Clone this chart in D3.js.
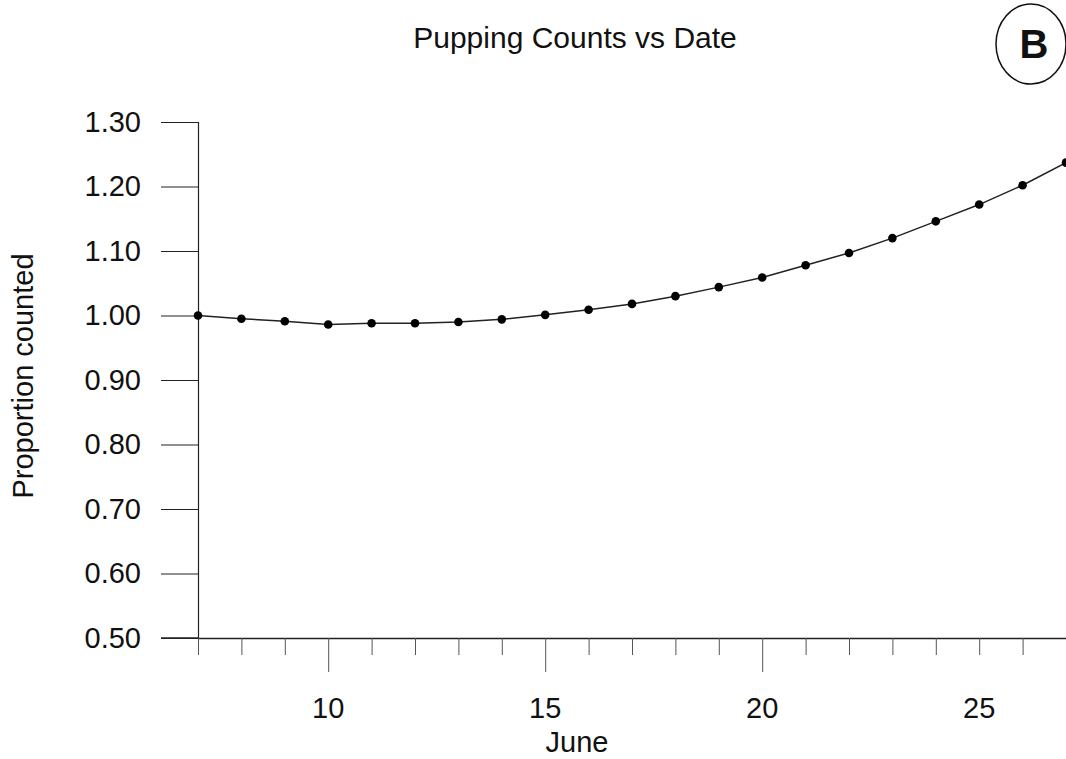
<!DOCTYPE html>
<html>
<head>
<meta charset="utf-8">
<script src="https://cdn.jsdelivr.net/npm/d3@7"></script>
<style>
  body { margin: 0; background: #fff; }
  text { font-family: "Liberation Sans", Arial, sans-serif; fill: #111; }
</style>
</head>
<body>
<div id="chart"></div>
<script>
// data
var days = [7, 8, 9, 10, 11, 12, 13, 14, 15, 16, 17, 18, 19, 20, 21, 22, 23, 24, 25, 26, 27];
var proportion = [1.000, 0.995, 0.991, 0.986, 0.988, 0.988, 0.990, 0.994, 1.001, 1.009, 1.018,
                  1.030, 1.044, 1.059, 1.078, 1.097, 1.120, 1.146, 1.172, 1.202, 1.237];
var yTicks = [0.5, 0.6, 0.7, 0.8, 0.9, 1.0, 1.1, 1.2, 1.3];
var xLabelTicks = [10, 15, 20, 25];
var majorTicks = [10, 15, 20];

var width = 1066, height = 759;
var margin = {left: 198, right: 0, top: 122, bottom: 121};

var svg = d3.select("#chart").append("svg")
    .attr("width", width)
    .attr("height", height);

var x = d3.scaleLinear().domain([7, 27]).range([margin.left, width - margin.right]);
var y = d3.scaleLinear().domain([0.5, 1.3]).range([height - margin.bottom, margin.top]);

// y axis
var yAxis = svg.append("g")
    .attr("transform", "translate(" + margin.left + ",0)")
    .call(d3.axisLeft(y).tickValues(yTicks).tickFormat(d3.format(".2f")).tickSize(37).tickPadding(20));
yAxis.select(".domain").attr("stroke", "#222").attr("stroke-width", 1.2);
yAxis.selectAll(".tick line").attr("stroke", "#222").attr("stroke-width", 1.2);
yAxis.selectAll(".tick text")
    .attr("font-size", 29)
    .attr("fill", "#111")
    .attr("font-family", "Liberation Sans, Arial, sans-serif");

// x axis: minor ticks every day, longer at 10, 15, 20
var xAxis = svg.append("g")
    .attr("transform", "translate(0," + y(0.5) + ")")
    .call(d3.axisBottom(x).tickValues(days).tickFormat("").tickSize(17).tickSizeOuter(0));
xAxis.select(".domain").attr("stroke", "#222").attr("stroke-width", 1.5);
xAxis.selectAll(".tick line")
    .attr("stroke", "#555")
    .attr("stroke-width", 1)
    .attr("y2", function(d) { return majorTicks.indexOf(d) >= 0 ? 34 : 17; });

// extend x axis line left to meet the y tick
svg.append("line")
    .attr("x1", margin.left - 37).attr("x2", margin.left)
    .attr("y1", y(0.5)).attr("y2", y(0.5))
    .attr("stroke", "#222").attr("stroke-width", 1.5);

svg.append("g").selectAll("text")
    .data(xLabelTicks)
    .enter().append("text")
    .attr("x", function(d) { return x(d); })
    .attr("y", y(0.5) + 80)
    .attr("text-anchor", "middle")
    .attr("font-size", 29)
    .text(function(d) { return d; });

// line and points
var line = d3.line()
    .x(function(d, i) { return x(days[i]); })
    .y(function(d) { return y(d); });

svg.append("path")
    .datum(proportion)
    .attr("d", line)
    .attr("fill", "none")
    .attr("stroke", "#222")
    .attr("stroke-width", 1.5);

svg.append("g").selectAll("circle")
    .data(proportion)
    .enter().append("circle")
    .attr("cx", function(d, i) { return x(days[i]); })
    .attr("cy", function(d) { return y(d); })
    .attr("r", 4.3)
    .attr("fill", "#000");

// titles
svg.append("text")
    .attr("x", 575)
    .attr("y", 48)
    .attr("text-anchor", "middle")
    .attr("font-size", 30)
    .text("Pupping Counts vs Date");

svg.append("text")
    .attr("x", 577)
    .attr("y", 752)
    .attr("text-anchor", "middle")
    .attr("font-size", 29)
    .text("June");

svg.append("text")
    .attr("transform", "translate(33," + 376 + ") rotate(-90)")
    .attr("text-anchor", "middle")
    .attr("font-size", 29)
    .text("Proportion counted");

// panel label
svg.append("ellipse")
    .attr("cx", 1031).attr("cy", 44)
    .attr("rx", 35).attr("ry", 40)
    .attr("fill", "none")
    .attr("stroke", "#111")
    .attr("stroke-width", 1.5);

svg.append("text")
    .attr("x", 1034)
    .attr("y", 58)
    .attr("text-anchor", "middle")
    .attr("font-size", 40)
    .attr("font-weight", "bold")
    .text("B");
</script>
</body>
</html>
